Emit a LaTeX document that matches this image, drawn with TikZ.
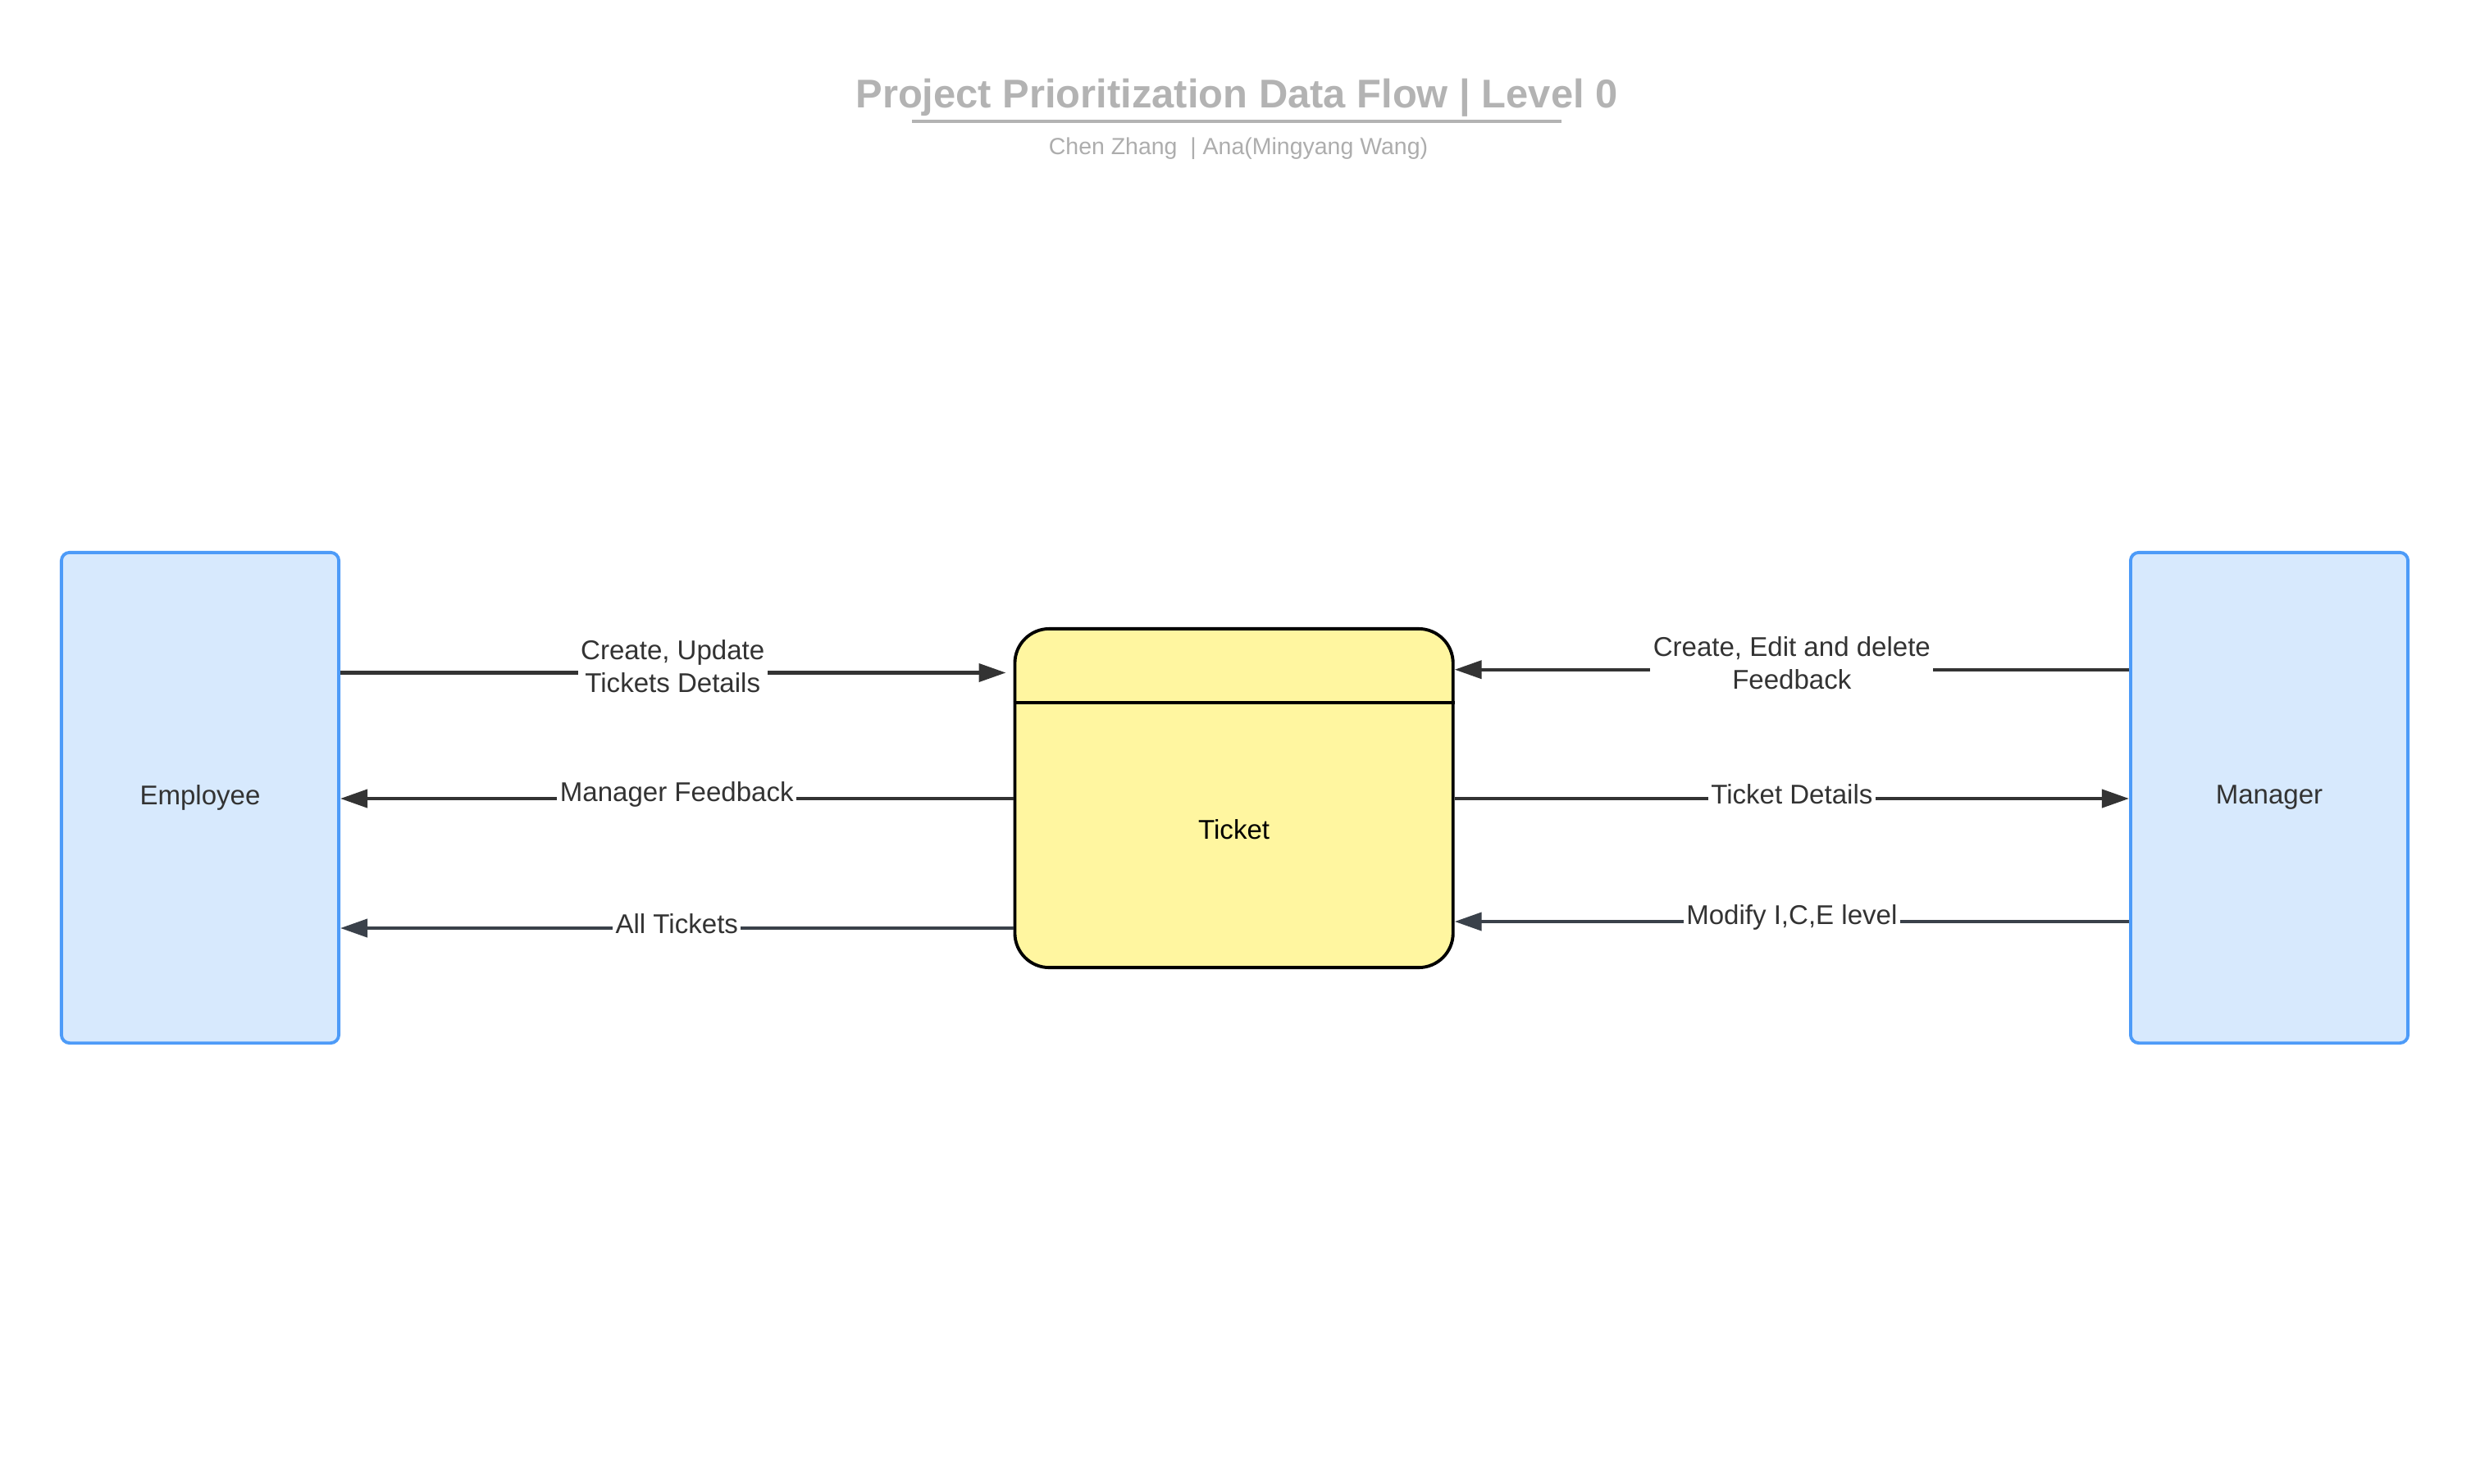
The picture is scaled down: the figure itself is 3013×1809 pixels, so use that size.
\documentclass[tikz,border=0pt]{standalone}
\usepackage{fontspec}
\setmainfont{Liberation Sans}
\usetikzlibrary{arrows.meta}
\definecolor{entfill}{HTML}{D7E9FD}
\definecolor{entline}{HTML}{4D9BF8}
\definecolor{tkfill}{HTML}{FFF6A0}
\definecolor{arrdark}{HTML}{333333}
\definecolor{arrblue}{HTML}{3A414A}
\definecolor{titlegray}{HTML}{B3B3B3}
\definecolor{subgray}{HTML}{ADADAD}
\tikzset{
  entity/.style={draw=entline, fill=entfill, line width=1.1pt, rounded corners=0.1cm,
    minimum width=3.38cm, minimum height=5.98cm, inner sep=0pt,
    font=\fontsize{9.4}{11.4}\selectfont, text=arrdark},
  store/.style={draw=black, fill=tkfill, line width=1.1pt, rounded corners=0.42cm,
    minimum width=5.34cm, minimum height=4.13cm, inner sep=0pt},
  flow/.style={draw=arrdark, line width=1.15pt, -{Triangle[length=0.33cm,width=0.22cm]}},
  flowb/.style={flow, draw=arrblue, -{Triangle[length=0.33cm,width=0.22cm,fill=arrblue]}},
  lab/.style={midway, fill=white, inner xsep=1pt, inner ysep=0pt, align=center,
    font=\fontsize{9.4}{11.4}\selectfont, text=arrdark, yshift=0.05cm},
  lab2/.style={lab, yshift=0.03cm},
}
\begin{document}
\begin{tikzpicture}[x=0.01cm, y=-0.01cm]
\useasboundingbox (0,0) rectangle (3013,1809);
% title
\node[font=\fontsize{13.9}{16}\selectfont\bfseries, text=titlegray] (title) at (1508,119) {Project Prioritization Data Flow | Level 0};
\coordinate (ul1) at (1112,148);
\coordinate (ul2) at (1904,148);
\draw[titlegray, line width=0.9pt] (ul1) -- (ul2);
\node[font=\fontsize{8.1}{10}\selectfont, text=subgray] (sub) at (1510,181) {Chen Zhang\ \ | Ana(Mingyang Wang)};
% entities
\node[entity] (emp) at (244,973) {Employee};
\node[entity] (mgr) at (2767,973) {Manager};
% ticket store
\node[store] (ticket) at (1504.6,973.5) {};
\coordinate (dv) at (0,857);
\draw[black, line width=1.1pt] (ticket.west |- dv) -- (ticket.east |- dv);
\node[font=\fontsize{9.4}{11.4}\selectfont, text=black] (tklab) at (1504.6,1012) {Ticket};
% rows
\coordinate (r1) at (0,820.5);
\coordinate (r1b) at (0,816.7);
\coordinate (r2) at (0,974);
\coordinate (r3) at (0,1132);
\coordinate (r6) at (0,1124);
% left flows
\draw[flow, shorten >=0.09cm] (emp.east |- r1) -- node[lab2, xshift=-0.05cm]{Create, Update\\Tickets Details} (ticket.west |- r1);
\draw[flow] (ticket.west |- r2) -- node[lab]{Manager Feedback} (emp.east |- r2);
\draw[flowb] (ticket.west |- r3) -- node[lab]{All Tickets} (emp.east |- r3);
% right flows
\draw[flow] (mgr.west |- r1b) -- node[lab2]{Create, Edit and delete\\Feedback} (ticket.east |- r1b);
\draw[flow] (ticket.east |- r2) -- node[lab]{Ticket Details} (mgr.west |- r2);
\draw[flowb] (mgr.west |- r6) -- node[lab]{Modify I,C,E level} (ticket.east |- r6);
\end{tikzpicture}
\end{document}
